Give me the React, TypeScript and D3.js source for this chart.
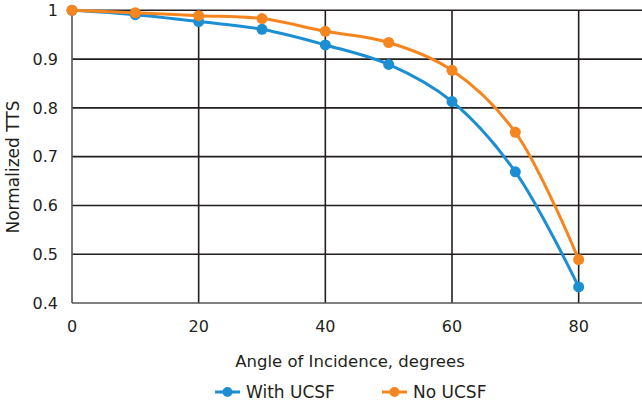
import React from "react";
import * as d3 from "d3";

const angles = [0, 10, 20, 30, 40, 50, 60, 70, 80];
const withUcsf = [1.0, 0.991, 0.977, 0.961, 0.929, 0.889, 0.813, 0.669, 0.433];
const noUcsf = [1.0, 0.995, 0.989, 0.983, 0.957, 0.934, 0.877, 0.75, 0.489];
const xTicks = [0, 20, 40, 60, 80];
const yTicks = [0.4, 0.5, 0.6, 0.7, 0.8, 0.9, 1];
const seriesNames = ["With UCSF", "No UCSF"];

const W = 642;
const H = 407;
const BLUE = "#1c8fd2";
const ORANGE = "#f5861f";
const INK = "#231f20";
const FONT = "'DejaVu Sans', sans-serif";

export default function App() {
  const x = d3.scaleLinear().domain([0, 90]).range([72, 642]);
  const y = d3.scaleLinear().domain([0.4, 1]).range([303, 10.3]);
  const line = d3
    .line<[number, number]>()
    .x((d) => x(d[0]))
    .y((d) => y(d[1]))
    .curve(d3.curveCatmullRom.alpha(0.5));

  const series = [
    { name: seriesNames[0], values: withUcsf, color: BLUE },
    { name: seriesNames[1], values: noUcsf, color: ORANGE },
  ];

  return (
    <svg
      width={W}
      height={H}
      style={{ position: "absolute", left: 0, top: 0, background: "#fff" }}
      fontFamily={FONT}
    >
      {yTicks
        .filter((t) => t > 0.4)
        .map((t) => (
          <line key={"h" + t} x1={x(0)} x2={W} y1={y(t)} y2={y(t)} stroke={INK} strokeWidth={1.6} />
        ))}
      {xTicks
        .filter((t) => t > 0)
        .map((t) => (
          <line key={"v" + t} x1={x(t)} x2={x(t)} y1={y(1)} y2={y(0.4)} stroke={INK} strokeWidth={1.6} />
        ))}
      <line x1={x(0)} x2={W} y1={y(0.4)} y2={y(0.4)} stroke="#555" strokeWidth={1.6} />
      <line x1={x(0)} x2={x(0)} y1={y(1)} y2={y(0.4)} stroke="#555" strokeWidth={1.6} />

      {yTicks.map((t) => (
        <text key={"yl" + t} x={58} y={y(t)} dy="0.36em" textAnchor="end" fontSize={16} fill={INK}>
          {d3.format("~g")(t)}
        </text>
      ))}
      {xTicks.map((t) => (
        <text key={"xl" + t} x={x(t)} y={326} dy="0.36em" textAnchor="middle" fontSize={16} fill={INK}>
          {t}
        </text>
      ))}

      {series.map((s) => (
        <g key={s.name}>
          <path
            d={line(angles.map((a, i) => [a, s.values[i]] as [number, number])) || ""}
            fill="none"
            stroke={s.color}
            strokeWidth={3}
          />
          {angles.map((a, i) => (
            <circle key={a} cx={x(a)} cy={y(s.values[i])} r={5.5} fill={s.color} />
          ))}
        </g>
      ))}

      <text
        transform={`translate(13,${167}) rotate(-90)`}
        textAnchor="middle"
        dy="0.36em"
        fontSize={17}
        fill={INK}
      >
        Normalized TTS
      </text>
      <text x={350} y={361} dy="0.36em" textAnchor="middle" fontSize={16.5} fill={INK}>
        Angle of Incidence, degrees
      </text>

      {series.map((s, i) => {
        const lx = i === 0 ? 215 : 382;
        return (
          <g key={"lg" + s.name}>
            <line x1={lx} x2={lx + 25} y1={392} y2={392} stroke={s.color} strokeWidth={3} />
            <circle cx={lx + 12.5} cy={392} r={5} fill={s.color} />
            <text x={lx + 31} y={392} dy="0.36em" fontSize={17} fill={INK}>
              {s.name}
            </text>
          </g>
        );
      })}
    </svg>
  );
}
